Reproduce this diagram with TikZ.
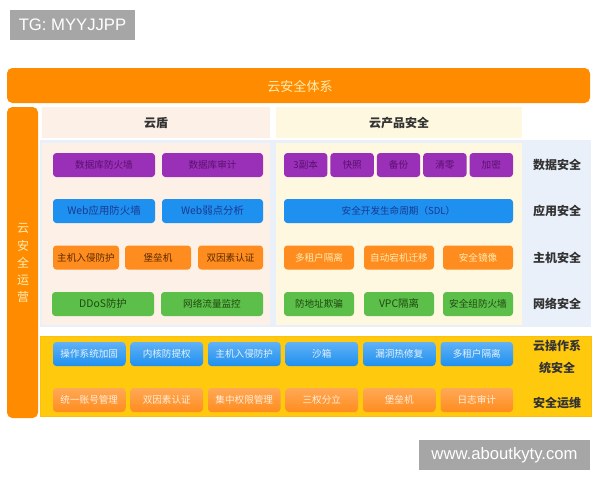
\documentclass[tikz,border=0pt]{standalone}
\usepackage{fontspec}
\setmainfont{Noto Sans CJK SC}
\newfontfamily\wmfont{Liberation Sans}
\usepackage{tikz}
\usetikzlibrary{positioning}

\definecolor{barorange}{RGB}{255,140,0}
\definecolor{bartext}{RGB}{255,236,180}
\definecolor{pinkbg}{RGB}{253,240,230}
\definecolor{yellowbg}{RGB}{254,248,224}
\definecolor{bluebg}{RGB}{234,240,250}
\definecolor{opsyellow}{RGB}{255,201,14}
\definecolor{dbpurple}{RGB}{155,48,184}
\definecolor{dbtext}{RGB}{90,16,112}
\definecolor{appblue}{RGB}{30,144,240}
\definecolor{apptext}{RGB}{26,58,144}
\definecolor{hostorange}{RGB}{255,140,30}
\definecolor{hosttext}{RGB}{90,42,0}
\definecolor{netgreen}{RGB}{92,191,74}
\definecolor{nettext}{RGB}{31,74,16}
\definecolor{labeltext}{RGB}{51,51,51}
\definecolor{wmgray}{RGB}{166,166,166}

\tikzset{
  blk/.style={rounded corners=2.5pt, minimum height=18pt, inner sep=0pt, font=\fontsize{7.2}{8}\selectfont},
  bw/.style={minimum width={#1*0.75pt}},
  dbbox/.style={blk, fill=dbpurple, text=dbtext},
  appbox/.style={blk, fill=appblue, text=apptext},
  hostbox/.style={blk, fill=hostorange, text=hosttext},
  hostlight/.style={blk, fill=hostorange, text=bartext},
  netbox/.style={blk, fill=netgreen, text=nettext},
  osbox/.style={blk, top color=appblue!70!white, bottom color=appblue, text=white!88!appblue},
  opsbox/.style={blk, top color=hostorange!75!white, bottom color=hostorange, text=white!85!hostorange},
  sidelabel/.style={text=labeltext, font=\bfseries\fontsize{9}{16.5}\selectfont, align=center},
  headlabel/.style={text=labeltext, font=\bfseries\fontsize{9}{10}\selectfont},
  wmbox/.style={fill=wmgray, text=white, font=\wmfont\fontsize{12.5}{14}\selectfont, inner sep=0pt}
}

\begin{document}
\begin{tikzpicture}[x=0.75pt,y=0.75pt,yscale=-1,xscale=1]
    \useasboundingbox (0,0) rectangle (600,480);

    %Backgrounds
    \fill [barorange, rounded corners=4pt] (7,68) rectangle (590,103);
    \fill [barorange, rounded corners=4pt] (7,107) rectangle (38,418);
    \fill [bluebg] (40,140) rectangle (591,327);
    \fill [pinkbg] (42,107) rectangle (270,138);
    \fill [yellowbg] (276,107) rectangle (522,138);
    \fill [pinkbg] (42,143) rectangle (270,325);
    \fill [yellowbg] (276,143) rectangle (522,325);
    \draw [opsyellow!85!orange, fill=opsyellow] (40,336) rectangle (591,416);

    % Watermark boxes
    \node [wmbox, minimum width=93.75pt, minimum height=22.5pt] (tg) at (72.5,25) {TG: MYYJJPP};
    \node [wmbox, minimum width=128.25pt, minimum height=22.5pt] (site) at (504.5,455) {www.aboutkyty.com};

    % Titles
    \node [text=bartext, font=\fontsize{9.8}{11}\selectfont] (title) at (300,86) {云安全体系};
    \node [text=bartext, font=\fontsize{9}{12.8}\selectfont, align=center] (ops) at (23,263) {云\\安\\全\\运\\营};
    \node [headlabel] (yundun) at (156,123) {云盾};
    \node [headlabel] (yunprod) at (399,123) {云产品安全};

    % Row labels
    \node [sidelabel] (lbData) at (557,165) {数据安全};
    \node [sidelabel] (lbApp) at (557,211) {应用安全};
    \node [sidelabel] (lbHost) at (557,258) {主机安全};
    \node [sidelabel] (lbNet) at (557,304) {网络安全};
    \node [sidelabel] (lbOs) at (557,357) {云操作系\\统安全};
    \node [sidelabel] (lbOps) at (557,403) {安全运维};

    % Yundun column
    \node [dbbox, bw=102] (ydDb1) at (104,165) {数据库防火墙};
    \node [dbbox, bw=101] (ydDb2) at (212.5,165) {数据库审计};
    \node [appbox, bw=102, font=\fontsize{7.8}{9}\selectfont] (ydApp1) at (104,211) {Web应用防火墙};
    \node [appbox, bw=101, font=\fontsize{7.8}{9}\selectfont] (ydApp2) at (212.5,211) {Web弱点分析};
    \node [hostbox, bw=66] (ydHost1) at (86,257.5) {主机入侵防护};
    \node [hostbox, bw=66] (ydHost2) at (158,257.5) {堡垒机};
    \node [hostbox, bw=65] (ydHost3) at (230.5,257.5) {双因素认证};
    \node [netbox, bw=102, font=\fontsize{7.8}{9}\selectfont] (ydNet1) at (103,304) {DDoS防护};
    \node [netbox, bw=102] (ydNet2) at (212,304) {网络流量监控};

    % Product column
    \node [dbbox, bw=43.4] (cpDb1) at (305.7,165) {3副本};
    \node [dbbox, bw=43.4] (cpDb2) at (352.1,165) {快照};
    \node [dbbox, bw=43.4] (cpDb3) at (398.5,165) {备份};
    \node [dbbox, bw=43.4] (cpDb4) at (444.9,165) {清零};
    \node [dbbox, bw=43.4] (cpDb5) at (491.3,165) {加密};
    \node [appbox, bw=229] (cpApp) at (398.5,211) {安全开发生命周期（SDL）};
    \node [hostlight, bw=70] (cpHost1) at (319,257.5) {多租户隔离};
    \node [hostlight, bw=70] (cpHost2) at (399,257.5) {自动宕机迁移};
    \node [hostlight, bw=70] (cpHost3) at (478,257.5) {安全镜像};
    \node [netbox, bw=70] (cpNet1) at (319,304) {防地址欺骗};
    \node [netbox, bw=70, font=\fontsize{7.8}{9}\selectfont] (cpNet2) at (399,304) {VPC隔离};
    \node [netbox, bw=70] (cpNet3) at (478,304) {安全组防火墙};

    % Cloud OS row
    \node [osbox, bw=72.5] (os1) at (89.25,354) {操作系统加固};
    \node [osbox, bw=72.5] (os2) at (166.75,354) {内核防提权};
    \node [osbox, bw=72.5] (os3) at (244.25,354) {主机入侵防护};
    \node [osbox, bw=72.5] (os4) at (321.75,354) {沙箱};
    \node [osbox, bw=72.5] (os5) at (399.25,354) {漏洞热修复};
    \node [osbox, bw=72.5] (os6) at (476.75,354) {多租户隔离};

    % Ops row
    \node [opsbox, bw=72.5] (op1) at (89.25,400) {统一账号管理};
    \node [opsbox, bw=72.5] (op2) at (166.75,400) {双因素认证};
    \node [opsbox, bw=72.5] (op3) at (244.25,400) {集中权限管理};
    \node [opsbox, bw=72.5] (op4) at (321.75,400) {三权分立};
    \node [opsbox, bw=72.5] (op5) at (399.25,400) {堡垒机};
    \node [opsbox, bw=72.5] (op6) at (476.75,400) {日志审计};

\end{tikzpicture}
\end{document}
